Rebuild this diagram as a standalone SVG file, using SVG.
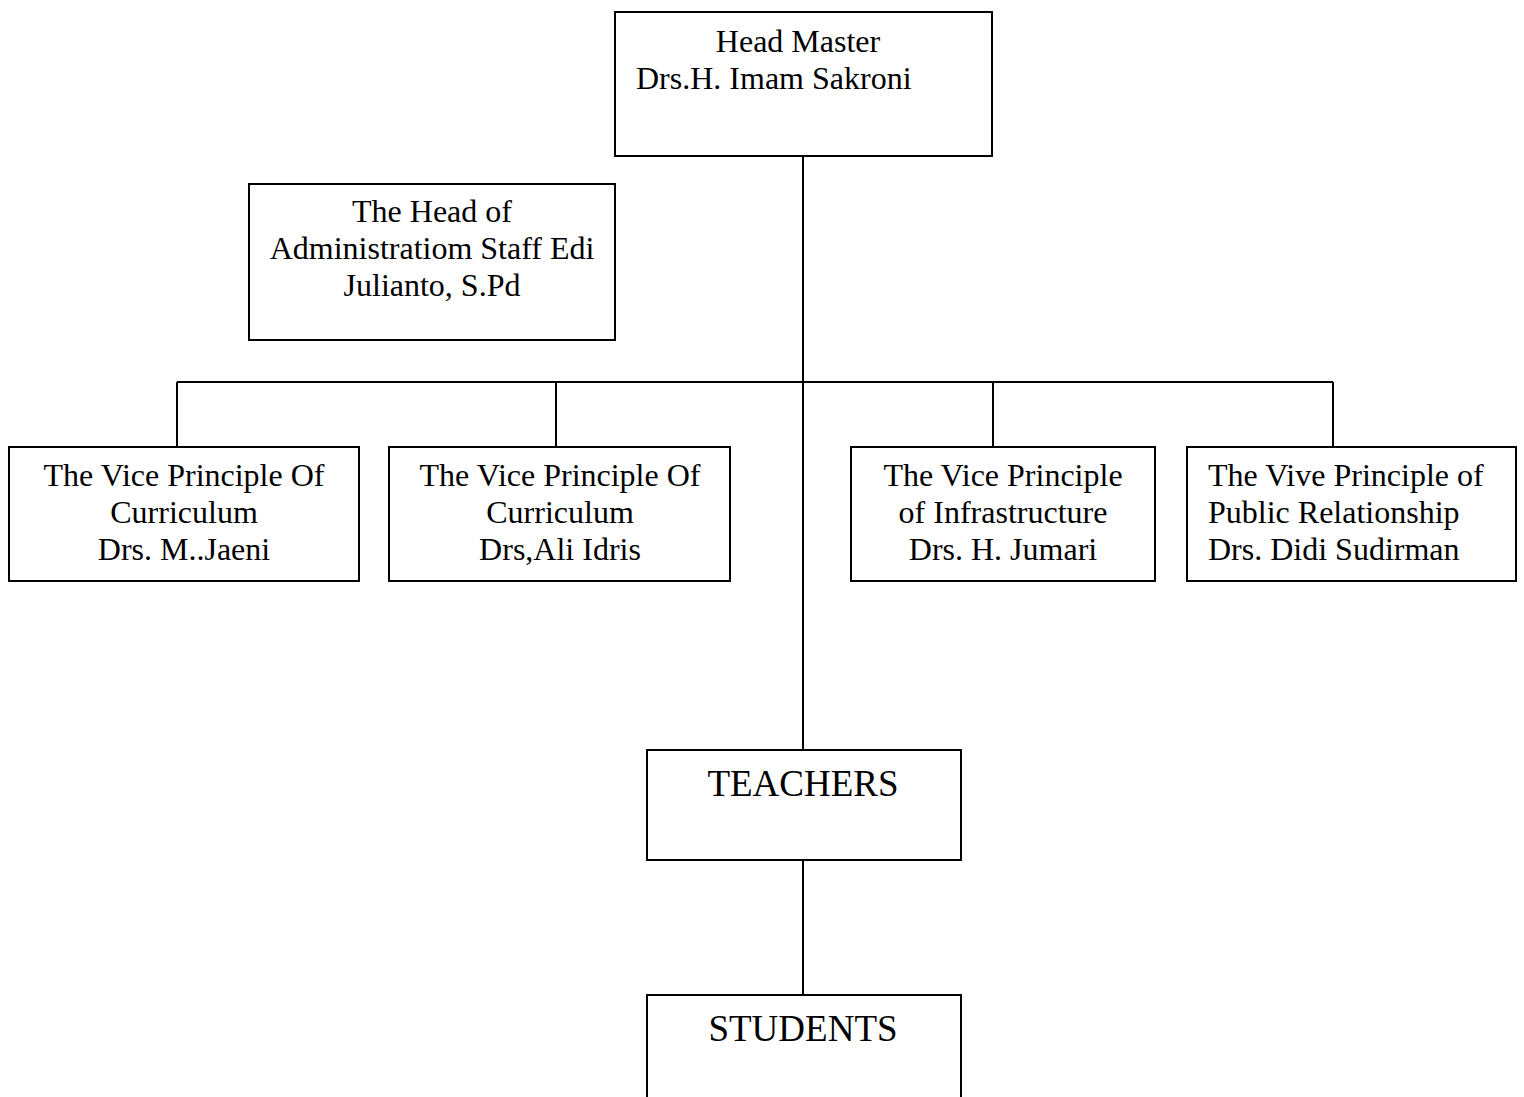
<svg xmlns="http://www.w3.org/2000/svg" width="1524" height="1097" viewBox="0 0 1524 1097">
<style>
.box{fill:#fff;stroke:#000;stroke-width:2}
.ln{stroke:#000;stroke-width:2;fill:none}
text{font-family:"Liberation Serif","Times New Roman",serif;font-size:32px;fill:#000}
.c{text-anchor:middle}
.big{font-size:37px}
</style>
<rect width="1524" height="1097" fill="#fff"/>
<g id="connectors">
<line class="ln" x1="803" y1="156" x2="803" y2="750"/>
<line class="ln" x1="177" y1="382" x2="1333" y2="382"/>
<line class="ln" x1="177" y1="382" x2="177" y2="447"/>
<line class="ln" x1="556" y1="382" x2="556" y2="447"/>
<line class="ln" x1="993" y1="382" x2="993" y2="447"/>
<line class="ln" x1="1333" y1="382" x2="1333" y2="447"/>
<line class="ln" x1="803" y1="860" x2="803" y2="995"/>
</g>
<g id="headmaster">
<rect class="box" x="615" y="12" width="377" height="144"/>
<text class="c" x="798" y="52">Head Master</text>
<text x="636" y="89">Drs.H. Imam Sakroni</text>
</g>
<g id="admin">
<rect class="box" x="249" y="184" width="366" height="156"/>
<text class="c" x="432" y="222">The Head of</text>
<text class="c" x="432" y="259">Administratiom Staff Edi</text>
<text class="c" x="432" y="296">Julianto, S.Pd</text>
</g>
<g id="vice1">
<rect class="box" x="9" y="447" width="350" height="134"/>
<text class="c" x="184" y="486">The Vice Principle Of</text>
<text class="c" x="184" y="523">Curriculum</text>
<text class="c" x="184" y="560">Drs. M..Jaeni</text>
</g>
<g id="vice2">
<rect class="box" x="389" y="447" width="341" height="134"/>
<text class="c" x="560" y="486">The Vice Principle Of</text>
<text class="c" x="560" y="523">Curriculum</text>
<text class="c" x="560" y="560">Drs,Ali Idris</text>
</g>
<g id="vice3">
<rect class="box" x="851" y="447" width="304" height="134"/>
<text class="c" x="1003" y="486">The Vice Principle</text>
<text class="c" x="1003" y="523">of Infrastructure</text>
<text class="c" x="1003" y="560">Drs. H. Jumari</text>
</g>
<g id="vice4">
<rect class="box" x="1187" y="447" width="329" height="134"/>
<text x="1208" y="486">The Vive Principle of</text>
<text x="1208" y="523">Public Relationship</text>
<text x="1208" y="560">Drs. Didi Sudirman</text>
</g>
<g id="teachers">
<rect class="box" x="647" y="750" width="314" height="110"/>
<text class="c big" x="803" y="796">TEACHERS</text>
</g>
<g id="students">
<rect class="box" x="647" y="995" width="314" height="120"/>
<text class="c big" x="803" y="1041">STUDENTS</text>
</g>
</svg>
